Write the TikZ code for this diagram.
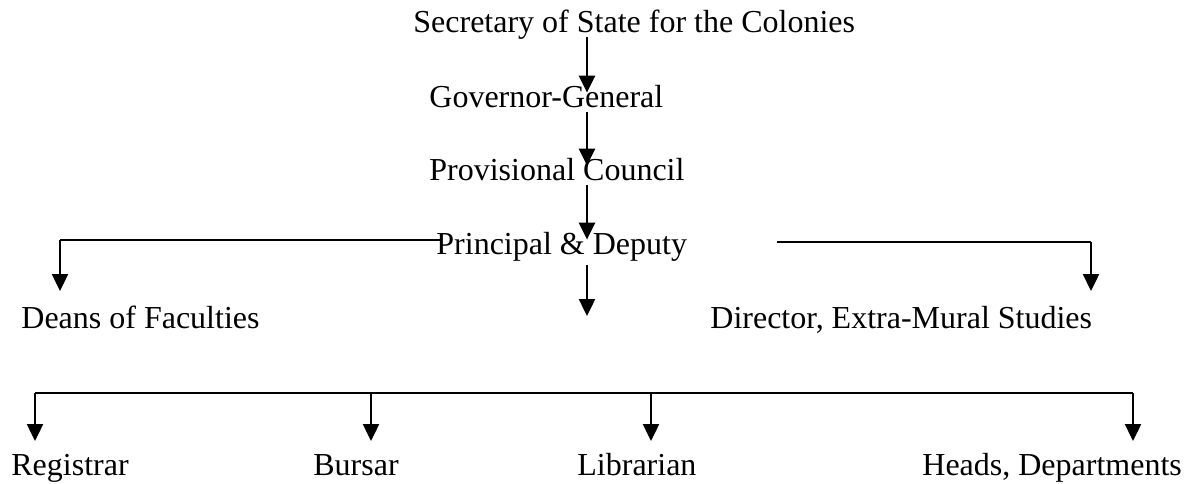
\documentclass[tikz,border=0pt]{standalone}
\usepackage{fontspec}
\setmainfont{Liberation Serif}
\usetikzlibrary{arrows.meta}
\begin{document}
\begin{tikzpicture}[x=0.5pt,y=-0.5pt,
  lbl/.style={anchor=base west,inner sep=0pt,font=\fontsize{16}{19}\selectfont,text height=0.7em,text depth=0.22em},
  arr/.style={line width=1.2pt,-{Triangle[length=8.5pt,width=8pt]}},
  hl/.style={line width=0.85pt}]
\useasboundingbox (0,0) rectangle (1194,483);
\node[lbl] (sec)  at (413,32)  {Secretary of State for the Colonies};
\node[lbl] (gov)  at (429,107) {Governor-General};
\node[lbl] (prov) at (429,180) {Provisional Council};
\node[lbl] (prin) at (436,254) {Principal \& Deputy};
\node[lbl] (dean) at (21,328)  {Deans of Faculties};
\node[lbl] (dir)  at (710,328) {Director, Extra-Mural Studies};
\node[lbl] (reg)  at (11,475)  {Registrar};
\node[lbl] (bur)  at (313,475) {Bursar};
\node[lbl] (lib)  at (577,475) {Librarian};
\node[lbl] (head) at (922,475) {Heads, Departments};
\coordinate (ax) at (587,0);
\coordinate (yl) at (0,240);
\coordinate (rs) at (777,242);
\coordinate (dtip) at (587,316);
\coordinate (ltip) at (60,291);
\coordinate (rtip) at (1091,291);
\coordinate (b1) at (35,393);
\coordinate (b2) at (371,393);
\coordinate (b3) at (651,393);
\coordinate (b4) at (1133,393);
\coordinate (ty) at (0,441);
\draw[arr] (sec.south -| ax) -- (gov.north -| ax);
\draw[arr] (gov.south -| ax) -- (prov.north -| ax);
\draw[arr] (prov.south -| ax) -- (prin.north -| ax);
\draw[arr] ([yshift=-3pt]prin.south -| ax) -- (dtip);
\draw[hl] ([xshift=2pt]prin.west |- yl) -- (ltip |- yl);
\draw[arr] (ltip |- yl) -- (ltip);
\draw[hl] (rs) -- (rtip |- rs);
\draw[arr] (rtip |- rs) -- (rtip);
\draw[hl] (b1) -- (b4);
\draw[arr] (b1) -- (b1 |- ty);
\draw[arr] (b2) -- (b2 |- ty);
\draw[arr] (b3) -- (b3 |- ty);
\draw[arr] (b4) -- (b4 |- ty);
\end{tikzpicture}
\end{document}
